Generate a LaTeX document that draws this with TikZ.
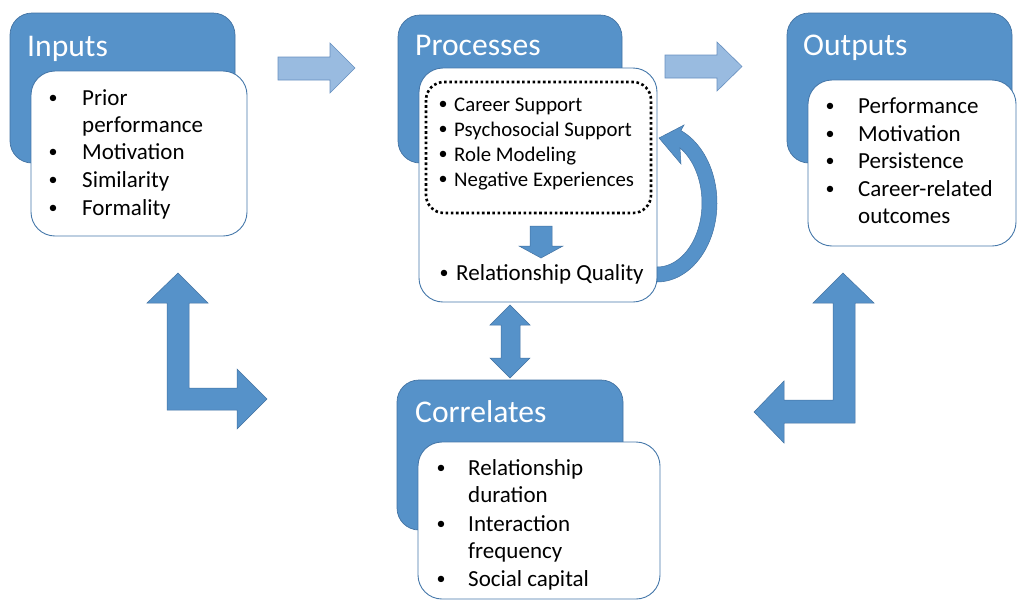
\documentclass[tikz,border=0pt]{standalone}
\usepackage{fontspec}
\setmainfont{Carlito}
\definecolor{mblue}{RGB}{86,146,201}
\definecolor{mblueb}{RGB}{66,114,162}
\definecolor{lblue}{RGB}{153,187,224}
\definecolor{lblueb}{RGB}{104,144,192}
\definecolor{cardb}{RGB}{70,120,170}
\newcommand\smbul{\raisebox{1.2pt}{\fontsize{18}{20}\selectfont •}}
\begin{document}
\begin{tikzpicture}[x=1pt,y=-1pt,
  hdr/.style={fill=mblue, draw=mblueb, line width=0.7pt, rounded corners=22pt},
  card/.style={fill=white, draw=cardb, line width=0.9pt, rounded corners=24pt},
  barrow/.style={fill=mblue, draw=mblueb, line width=0.5pt, line join=miter},
  larrow/.style={fill=lblue, draw=lblueb, line width=0.6pt, line join=miter},
  dotbox/.style={draw=black, line width=2.6pt, dash pattern=on 2.6pt off 2.6pt, rounded corners=18pt},
  title/.style={anchor=base west, inner sep=0pt, text=white, font=\fontsize{31.6}{36}\selectfont},
  body/.style={anchor=base west, inner sep=0pt, font=\fontsize{23}{27}\selectfont},
  small/.style={anchor=base west, inner sep=0pt, font=\fontsize{20.8}{25}\selectfont},
  bul/.style={anchor=base, inner sep=0pt}]
\useasboundingbox (0,0) rectangle (1017,600);

% header boxes
\draw[hdr] (10,13) rectangle (235,163);
\draw[hdr] (398,15) rectangle (622,163);
\draw[hdr] (787,13) rectangle (1012,163);
\draw[hdr] (397,380) rectangle (623,530);

% titles
\node[title] (tin) at (27,56) {Inputs};
\node[title] (tpr) at (415,55) {Processes};
\node[title] (tout) at (803,55) {Outputs};
\node[title] (tcor) at (415,422) {Correlates};

% cards
\draw[card] (31,71) rectangle (247,236);
\draw[card] (419,68) rectangle (657,302);
\draw[card] (808,80) rectangle (1016,246);
\draw[card] (418,442) rectangle (660,599);

% dotted box
\draw[dotbox] (426,82) rectangle (651,213);

% Inputs items
\node[body,bul] (ib1) at (53,105) {\smbul};
\node[body] (it1) at (82,105) {Prior};
\node[body] (it1b) at (82,132) {performance};
\node[body,bul] (ib2) at (53,159) {\smbul};
\node[body] (it2) at (82,159) {Motivation};
\node[body,bul] (ib3) at (53,187) {\smbul};
\node[body] (it3) at (82,187) {Similarity};
\node[body,bul] (ib4) at (53,215) {\smbul};
\node[body] (it4) at (82,215) {Formality};

% Processes items
\node[small,bul] (pb1) at (443,111) {\smbul};
\node[small] (pt1) at (454,111) {Career Support};
\node[small,bul] (pb2) at (443,136) {\smbul};
\node[small] (pt2) at (454,136) {Psychosocial Support};
\node[small,bul] (pb3) at (443,161) {\smbul};
\node[small] (pt3) at (454,161) {Role Modeling};
\node[small,bul] (pb4) at (443,186) {\smbul};
\node[small] (pt4) at (454,186) {Negative Experiences};
\node[body,bul] (pb5) at (444,280) {\smbul};
\node[body] (pt5) at (456,280) {Relationship Quality};

% Outputs items
\node[body,bul] (ob1) at (830,113) {\smbul};
\node[body] (ot1) at (858,113) {Performance};
\node[body,bul] (ob2) at (830,141) {\smbul};
\node[body] (ot2) at (858,141) {Motivation};
\node[body,bul] (ob3) at (830,168) {\smbul};
\node[body] (ot3) at (858,168) {Persistence};
\node[body,bul] (ob4) at (830,196) {\smbul};
\node[body] (ot4) at (858,196) {Career-related};
\node[body] (ot4b) at (858,223) {outcomes};

% Correlates items
\node[body,bul] (cb1) at (441,475) {\smbul};
\node[body] (ct1) at (468,475) {Relationship};
\node[body] (ct1b) at (468,502) {duration};
\node[body,bul] (cb2) at (441,531) {\smbul};
\node[body] (ct2) at (468,531) {Interaction};
\node[body] (ct2b) at (468,558) {frequency};
\node[body,bul] (cb3) at (441,586) {\smbul};
\node[body] (ct3) at (468,586) {Social capital};

% light arrows
\draw[larrow] (278,57) -- (330,57) -- (330,43) -- (355,68) -- (330,93) -- (330,80) -- (278,80) -- cycle;
\draw[larrow] (665,55) -- (717,55) -- (717,42) -- (742,66.5) -- (717,91) -- (717,78) -- (665,78) -- cycle;

% down arrow inside processes
\draw[barrow] (530,226) -- (552,226) -- (552,246) -- (563,246) -- (541,258) -- (519,246) -- (530,246) -- cycle;

% double arrow processes <-> correlates
\draw[barrow] (510,305) -- (530,325) -- (520,325) -- (520,358) -- (530,358) -- (510,378) -- (490,358) -- (501,358) -- (501,325) -- (490,325) -- cycle;

% left L arrow
\draw[barrow] (178,273) -- (208,303) -- (189,303) -- (189,388) -- (237,388) -- (237,369) -- (267,399) -- (237,429) -- (237,410) -- (167,410) -- (167,303) -- (147,303) -- cycle;

% right L arrow
\draw[barrow] (843,273) -- (874,303) -- (855,303) -- (855,423) -- (784,423) -- (784,443) -- (754,412) -- (784,381) -- (784,400) -- (833,400) -- (833,303) -- (813,303) -- cycle;

% curved feedback arrow
\draw[barrow] plot[domain=-90:66.5, samples=50] ({657+60*cos(\x)},{203-79*sin(\x)})
  -- (684,125) -- (659,138) -- (681,164)
  -- plot[domain=59.3:-90, samples=50] ({657+45*cos(\x)},{203-64*sin(\x)}) -- cycle;
\end{tikzpicture}
\end{document}
